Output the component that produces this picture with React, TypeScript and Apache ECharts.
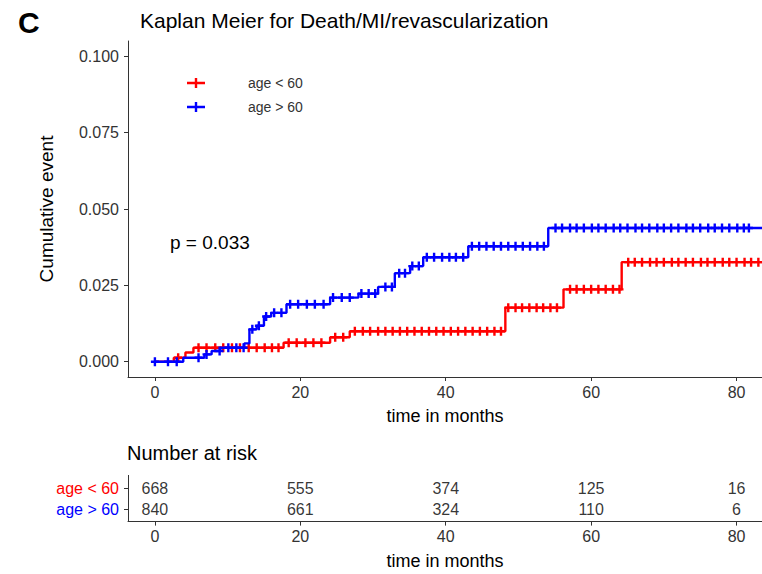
import React, { useEffect, useRef } from "react";
import * as echarts from "echarts";

const groups = ["age < 60", "age > 60"];
const colors = ["#FF0000", "#0000FF"];

const xTicks = [0, 20, 40, 60, 80];
const yTicks = [0, 0.025, 0.05, 0.075, 0.1];

// Kaplan-Meier cumulative event steps [time, cumulative event]
const stepsYoung: [number, number][] = [
  [0, 0], [2.6, 0.0013], [4.2, 0.003], [5.3, 0.0046], [17.7, 0.0062],
  [24.1, 0.008], [26.8, 0.01], [48.2, 0.0177], [56.2, 0.0237], [64.2, 0.0326],
];
const stepsOld: [number, number][] = [
  [0, 0], [3.9, 0.0013], [6.8, 0.0024], [7.8, 0.0035], [9.0, 0.0046],
  [12.3, 0.006], [13.0, 0.0106], [14.0, 0.0118], [15.0, 0.0148], [16.0, 0.016],
  [18.1, 0.0188], [24.1, 0.021], [28.0, 0.0223], [30.7, 0.0245], [33.0, 0.029],
  [35.1, 0.0313], [36.9, 0.0342], [43.1, 0.0378], [54.1, 0.0438],
];

// censoring times (months)
const censorYoung: number[] = [
  3.2, 6.0, 7.1, 8.3, 9.4, 10.6, 11.7, 12.9, 14.0, 15.1, 16.1, 17.0,
  18.4, 19.5, 20.7, 21.8, 22.9, 24.8, 25.9,
  27.5, 28.6, 29.6, 30.7, 31.7, 32.7, 33.7, 34.7, 35.7, 36.7, 37.7, 38.7,
  39.7, 40.7, 41.7, 42.7, 43.7, 44.7, 45.7, 46.7, 47.6,
  48.6, 49.6, 50.5, 51.5, 52.5, 53.4, 54.4, 55.3,
  57.1, 58.0, 59.0, 60.0, 61.0, 62.0, 63.0, 63.9,
  65.1, 66.0, 67.0, 68.1, 69.0, 70.0, 71.1, 72.0, 73.0, 74.0, 75.1, 76.0,
  77.0, 78.1, 79.0, 80.0, 81.1, 82.0, 83.0,
];
const censorOld: number[] = [
  0.0, 1.8, 3.0, 6.0, 7.1, 8.9, 10.1, 11.2, 12.2, 13.4, 14.3, 15.3, 16.4, 17.4,
  18.6, 19.7, 20.9, 22.0, 23.2, 24.5, 25.7, 26.8, 28.4, 29.4, 30.3, 31.7, 32.6,
  33.6, 34.4, 35.4, 36.3, 37.4, 38.4, 39.5, 40.5, 41.4, 42.4,
  43.6, 44.6, 45.6, 46.6, 47.6, 48.6, 49.6, 50.6, 51.6, 52.6, 53.5,
  55.1, 56.0, 57.1, 58.0, 59.0, 60.1, 61.0, 62.0, 63.1, 64.0, 65.0, 66.1,
  67.0, 68.0, 69.1, 70.0, 71.0, 72.0, 73.1, 74.0, 75.0, 76.1, 77.0, 78.0,
  79.0, 80.1, 81.0, 81.7,
];

const riskTimes = [0, 20, 40, 60, 80];
const riskYoung = [668, 555, 374, 125, 16];
const riskOld = [840, 661, 324, 110, 6];

const X_MIN = -3.7;
const X_MAX = 83.5;
const FONT = '"Liberation Sans", Arial, sans-serif';
const PLUS = "path://M2.8,0H5.2V3.3H8V5.7H5.2V9H2.8V5.7H0V3.3H2.8Z";
const LEGEND_ICON = "path://M0,3.8H18V6.2H0Z M7.8,0H10.2V10H7.8Z";

function valueAt(steps: [number, number][], t: number): number {
  let v = 0;
  for (const [s, y] of steps) if (s <= t) v = y;
  return v;
}

function lineData(steps: [number, number][]) {
  const d = steps.map((p) => [p[0], p[1]]);
  d.push([X_MAX, steps[steps.length - 1][1]]);
  return d;
}

export default function App() {
  const ref = useRef<HTMLDivElement>(null);
  useEffect(() => {
    if (!ref.current) return;
    const chart = echarts.init(ref.current, null, { renderer: "svg" });
    const axisCommon = {
      axisLine: { show: true, onZero: false, lineStyle: { color: "#333", width: 1 } },
      splitLine: { show: false },
    };
    const option: any = {
      animation: false,
      backgroundColor: "#fff",
      textStyle: { fontFamily: FONT },
      grid: [
        { left: 128, top: 41, width: 634, height: 336 },
        { left: 128, top: 475.4, width: 634, height: 46.2 },
      ],
      xAxis: [0, 1].map((i) => ({
        ...axisCommon,
        gridIndex: i,
        type: "value",
        min: X_MIN,
        max: X_MAX,
        axisTick: { show: true, length: 4, customValues: xTicks, lineStyle: { color: "#333" } },
        axisLabel: { customValues: xTicks, fontSize: 16, color: "#333", margin: 7, fontFamily: FONT },
        name: "time in months",
        nameLocation: "middle",
        nameGap: 30,
        nameTextStyle: { fontSize: 18, color: "#000", fontFamily: FONT },
      })),
      yAxis: [
        {
          ...axisCommon,
          gridIndex: 0,
          type: "value",
          min: -0.005,
          max: 0.105,
          axisTick: { show: true, length: 4, customValues: yTicks, lineStyle: { color: "#333" } },
          axisLabel: {
            customValues: yTicks,
            fontSize: 16,
            color: "#333",
            margin: 9,
            fontFamily: FONT,
            formatter: (v: number) => v.toFixed(3),
          },
          name: "Cumulative event",
          nameLocation: "middle",
          nameGap: 72,
          nameTextStyle: { fontSize: 19, color: "#000", fontFamily: FONT },
        },
        {
          ...axisCommon,
          gridIndex: 1,
          type: "value",
          min: 0.4,
          max: 2.6,
          axisTick: { show: true, length: 4, customValues: [1, 2], lineStyle: { color: "#333" } },
          axisLabel: {
            customValues: [1, 2],
            margin: 9,
            formatter: (v: number) => (v === 2 ? "{r|" + groups[0] + "}" : "{b|" + groups[1] + "}"),
            rich: {
              r: { color: colors[0], fontSize: 16, fontFamily: FONT },
              b: { color: colors[1], fontSize: 16, fontFamily: FONT },
            },
          },
        },
      ],
      legend: {
        data: groups,
        orient: "vertical",
        left: 182,
        top: 71,
        itemWidth: 18,
        itemHeight: 10,
        itemGap: 10,
        icon: LEGEND_ICON,
        textStyle: { fontSize: 14, color: "#333", padding: [0, 0, 0, 38], fontFamily: FONT },
      },
      graphic: [
        { type: "text", x: 18, y: 22, style: { text: "C", font: `bold 30px ${FONT}`, fill: "#000", verticalAlign: "middle" } },
        { type: "text", x: 140, y: 20, style: { text: "Kaplan Meier for Death/MI/revascularization", font: `21px ${FONT}`, fill: "#000", verticalAlign: "middle" } },
        { type: "text", x: 170, y: 242, style: { text: "p = 0.033", font: `19px ${FONT}`, fill: "#000", verticalAlign: "middle" } },
        { type: "text", x: 127, y: 453, style: { text: "Number at risk", font: `20px ${FONT}`, fill: "#000", verticalAlign: "middle" } },
      ],
      series: [
        {
          name: groups[0],
          type: "line",
          step: "end",
          xAxisIndex: 0,
          yAxisIndex: 0,
          data: lineData(stepsYoung),
          showSymbol: false,
          symbol: "none",
          color: colors[0],
          lineStyle: { color: colors[0], width: 2.4 },
          itemStyle: { color: colors[0] },
          z: 2,
        },
        {
          name: groups[0] + " censor",
          type: "scatter",
          xAxisIndex: 0,
          yAxisIndex: 0,
          data: censorYoung.map((t) => [t, valueAt(stepsYoung, t)]),
          symbol: PLUS,
          symbolSize: [8, 9],
          itemStyle: { color: colors[0], opacity: 1 },
          z: 3,
        },
        {
          name: groups[1],
          type: "line",
          step: "end",
          xAxisIndex: 0,
          yAxisIndex: 0,
          data: lineData(stepsOld),
          showSymbol: false,
          symbol: "none",
          color: colors[1],
          lineStyle: { color: colors[1], width: 2.4 },
          itemStyle: { color: colors[1] },
          z: 4,
        },
        {
          name: groups[1] + " censor",
          type: "scatter",
          xAxisIndex: 0,
          yAxisIndex: 0,
          data: censorOld.map((t) => [t, valueAt(stepsOld, t)]),
          symbol: PLUS,
          symbolSize: [8, 9],
          itemStyle: { color: colors[1], opacity: 1 },
          z: 5,
        },
        {
          name: "risk",
          type: "scatter",
          xAxisIndex: 1,
          yAxisIndex: 1,
          symbolSize: 1,
          itemStyle: { color: "transparent" },
          data: [
            ...riskTimes.map((t, i) => [t, 2, riskYoung[i]]),
            ...riskTimes.map((t, i) => [t, 1, riskOld[i]]),
          ],
          label: {
            show: true,
            position: "inside",
            fontSize: 16,
            color: "#000",
            fontFamily: FONT,
            formatter: (p: any) => String(p.value[2]),
          },
        },
      ],
    };
    chart.setOption(option);
    return () => chart.dispose();
  }, []);
  return (
    <div
      ref={ref}
      style={{ position: "fixed", left: 0, top: 0, width: 762, height: 574 }}
    />
  );
}
